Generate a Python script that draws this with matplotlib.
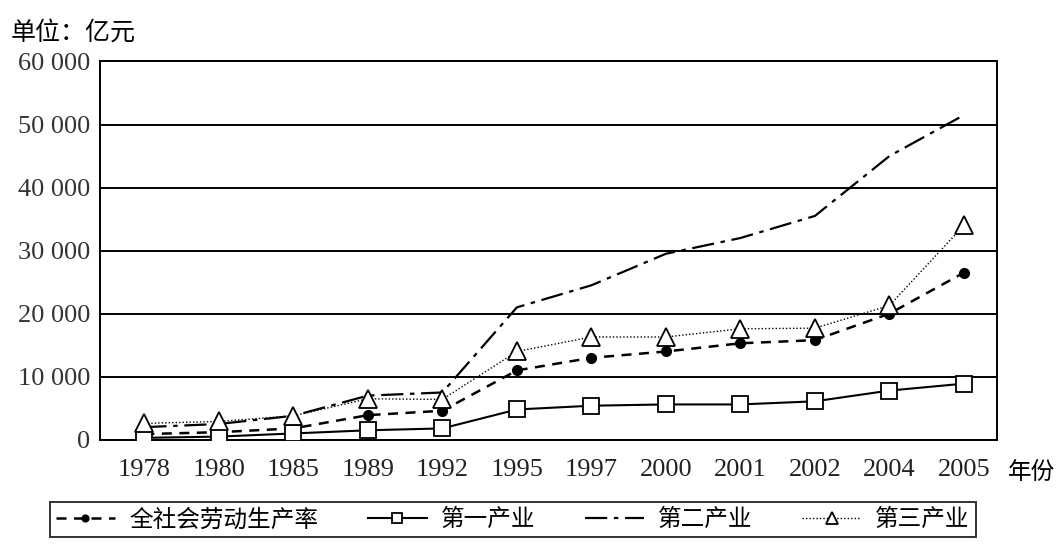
import matplotlib
matplotlib.use('Agg')
import matplotlib.pyplot as plt

plt.rcParams['font.family'] = ['Liberation Serif', 'Noto Sans CJK SC']
cjk = ['Noto Sans CJK SC', 'DejaVu Sans']

# 数据（单位：亿元）
years = ['1978', '1980', '1985', '1989', '1992', '1995', '1997', '2000', '2001', '2002', '2004', '2005']
total = [900, 1200, 1800, 3900, 4600, 11000, 13000, 14000, 15300, 15800, 20000, 26500]
first = [300, 500, 1000, 1500, 1800, 4800, 5400, 5600, 5600, 6100, 7800, 8900]
second = [2000, 2500, 3800, 7000, 7500, 21000, 24500, 29500, 32000, 35500, 45000, 51500]
third = [2600, 2900, 3800, 6500, 6400, 14000, 16300, 16300, 17600, 17700, 21300, 34000]
labels = ['全社会劳动生产率', '第一产业', '第二产业', '第三产业']
yticks = [0, 10000, 20000, 30000, 40000, 50000, 60000]
ytick_labels = ['0', '10 000', '20 000', '30 000', '40 000', '50 000', '60 000']

fig = plt.figure(figsize=(10.6, 5.49), dpi=100)
ax = fig.add_axes([0.094, 0.199, 0.847, 0.689])
x = list(range(len(years)))

ax.plot(x, total, color='black', linestyle=(0, (4, 3)), linewidth=1.8,
        marker='o', markersize=7, markerfacecolor='black', label=labels[0], zorder=4)
ax.plot(x, first, color='black', linestyle='-', linewidth=1.5,
        marker='s', markersize=11, markerfacecolor='white', markeredgewidth=1.3,
        label=labels[1], zorder=4)
ax.plot(x, second, color='black', linestyle=(0, (10, 3, 2, 3)), linewidth=1.6,
        label=labels[2], zorder=3)
ax.plot(x, third, color='black', linestyle=(0, (1, 1.5)), linewidth=1.0,
        marker='^', markersize=13, markerfacecolor='white', markeredgewidth=1.3,
        label=labels[3], zorder=5)

ax.set_xlim(-0.6, 11.45)
ax.set_ylim(0, 60000)
ax.set_xticks(x)
ax.set_xticklabels(years, fontsize=19, color='#222222')
ax.set_yticks(yticks)
ax.set_yticklabels(ytick_labels, fontsize=19, color='#333333')
ax.tick_params(axis='x', length=0, pad=14)
ax.tick_params(axis='y', length=0, pad=7)
ax.yaxis.grid(True, color='black', linewidth=1.4)
ax.set_axisbelow(True)
for s in ax.spines.values():
    s.set_color('black')
    s.set_linewidth(1.4)

fig.text(0.01, 0.94, '单位：亿元', fontsize=18, family=cjk, ha='left', va='center')
fig.text(0.951, 0.14, '年份', fontsize=17, family=cjk, ha='left', va='center')

leg = fig.legend(loc='lower left', bbox_to_anchor=(0.036, 0.0), ncol=4,
                 prop={'family': cjk, 'size': 17}, frameon=True, fancybox=False,
                 edgecolor='black', handlelength=2.5, columnspacing=2.1,
                 handletextpad=0.6, borderpad=0.25, markerscale=0.7)
leg.get_frame().set_linewidth(1.4)

fig.savefig('out.png', dpi=100)
